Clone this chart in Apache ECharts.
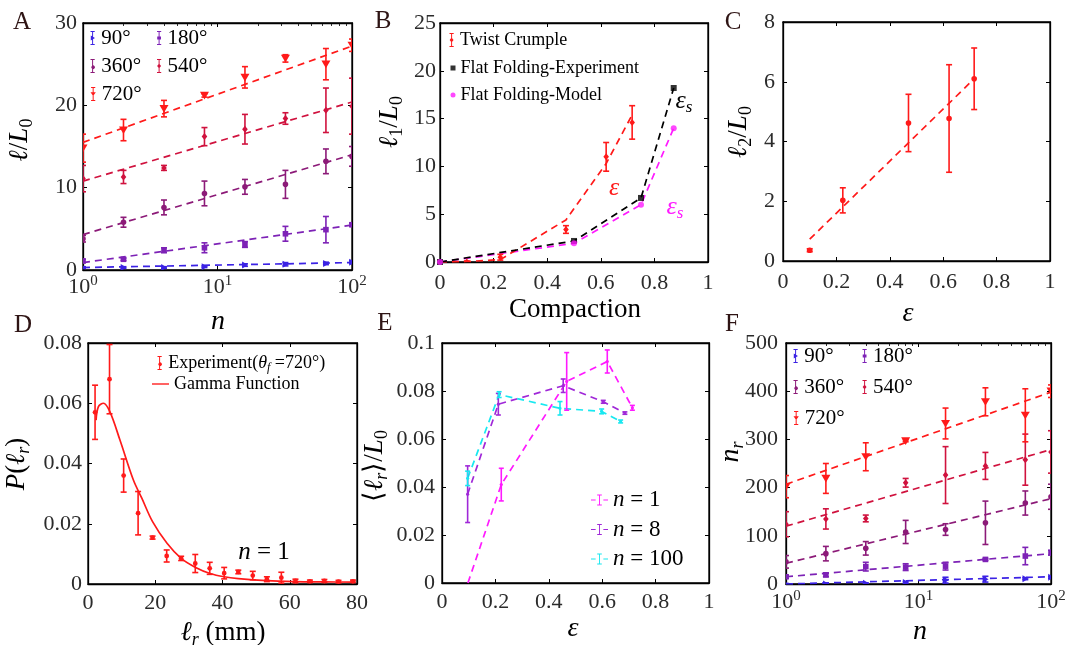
<!DOCTYPE html>
<html>
<head>
<meta charset="utf-8">
<script src="https://cdn.jsdelivr.net/npm/echarts@6/dist/echarts.min.js"></script>
<style>
  html, body { margin: 0; padding: 0; background: #fff; }
  #chart { width: 1070px; height: 645px; }
</style>
</head>
<body>
<div id="chart"></div>
<script>
// ---------------- data ----------------
const foldCounts = [1, 2, 4, 8, 16, 32, 64, 100];
const fitCounts = [1, 100];
const twistAngles = ['90°', '180°', '360°', '540°', '720°'];

// A: total crease length l/L0 versus folding count n, one row per twist angle
const lengthMean = [
  [0.3, 0.3, 0.3, 0.4, 0.6, 0.7, 0.8, 0.95],
  [1.1, 1.3, 2.4, 2.7, 3.1, 4.4, 4.9, 5.5],
  [3.8, 5.8, 7.6, 9.3, 10.1, 10.4, 13.2, 13.8],
  [11.1, 11.3, 12.4, 16.2, 17.1, 18.4, 19.4, 19.9],
  [14.8, 17.0, 19.6, 21.2, 23.4, 25.7, 25.0, 27.3]
];
const lengthErr = [
  [0.1, 0.1, 0.1, 0.1, 0.15, 0.2, 0.15, 0.15],
  [0.2, 0.15, 0.3, 0.6, 0.35, 0.9, 1.6, 0.2],
  [0.4, 0.6, 0.9, 1.5, 0.9, 1.7, 1.5, 1.2],
  [1.6, 0.8, 0.3, 1.1, 1.8, 0.7, 2.7, 3.4],
  [1.7, 1.3, 1.0, 0.2, 1.3, 0.45, 1.9, 0.75]
];
const lengthFit = [[0.3, 0.9], [0.9, 5.45], [4.3, 14.0], [10.8, 20.4], [15.5, 27.2]];

// B: largest crease length l1/L0 versus compaction
const twistCompaction = [0.1, 0.225, 0.47, 0.62, 0.717];
const twistL1 = [0, 0.5, 3.4, 11.0, 14.6];
const twistL1Err = [0.1, 0.3, 0.4, 1.5, 1.75];
const twistFitCompaction = [0, 0.1, 0.225, 0.47, 0.62, 0.717];
const twistFitL1 = [0, 0.05, 0.25, 4.4, 10.3, 15.4];
const flatCompaction = [0, 0.5, 0.75, 0.872];
const flatExperimentL1 = [0, 2.2, 6.7, 18.2];
const flatModelL1 = [0, 1.95, 6.0, 14.0];

// C: second largest crease length l2/L0 versus compaction eps
const strainC = [0.1, 0.224, 0.47, 0.622, 0.716];
const l2Mean = [0.36, 2.03, 4.62, 4.77, 6.1];
const l2Err = [0.05, 0.42, 0.96, 1.8, 1.03];
const l2FitStrain = [0.1, 0.716];
const l2Fit = [0.73, 6.1];

// D: distribution of ridge lengths (mm), theta_f = 720°, n = 1
const ridgeLength = [2.1, 6.4, 10.6, 14.9, 19.2, 23.4, 27.7, 31.9, 36.2, 40.5, 44.7, 49.0, 53.2, 57.5, 61.7, 66.0, 70.3, 74.5, 78.8];
const ridgeProb = [0.057, 0.068, 0.036, 0.0235, 0.0154, 0.0093, 0.0085, 0.0068, 0.0052, 0.0036, 0.0040, 0.0028, 0.0016, 0.0021, 0.0010, 0.0009, 0.0010, 0.0008, 0.0009];
const ridgeProbErr = [0.009, 0.0115, 0.0055, 0.0072, 0.0005, 0.002, 0.0007, 0.003, 0.002, 0.0019, 0.0006, 0.0014, 0.0008, 0.0018, 0.0006, 0.0004, 0.0005, 0.0004, 0.0004];
const gammaLength = [2.4, 3.1, 4.6, 6.5, 9.5, 13.5, 16, 19.2, 23.5, 27.7, 32, 36.3, 40.5, 44.7, 53.2, 61.7, 70, 79.5];
const gammaProb = [0.0544, 0.0589, 0.0600, 0.0572, 0.0478, 0.0345, 0.0285, 0.0207, 0.0135, 0.0085, 0.0055, 0.0035, 0.0024, 0.0018, 0.0011, 0.0008, 0.0007, 0.0006];

// E: mean ridge length <l_r>/L0 versus eps for three folding counts
const meanRidgeLabels = ['n = 1', 'n = 8', 'n = 100'];
const meanRidgeStrain = [
  [0.097, 0.222, 0.467, 0.619, 0.713],
  [0.096, 0.211, 0.454, 0.604, 0.685],
  [0.096, 0.214, 0.442, 0.598, 0.669]
];
const meanRidge = [
  [0.0, 0.041, 0.084, 0.0923, 0.073],
  [0.037, 0.0745, 0.0822, 0.0755, 0.0708],
  [0.0436, 0.0785, 0.0728, 0.0715, 0.0673]
];
const meanRidgeErr = [
  [0, 0.0068, 0.012, 0.0048, 0.001],
  [0.0118, 0.0045, 0.0028, 0.0006, 0.0005],
  [0.003, 0.0012, 0.0028, 0.001, 0.0006]
];

// F: number of ridges n_r versus folding count n
const ridgeCountMean = [
  [0, 0, 1.5, 3, 8, 10, 11, 14],
  [15, 19, 36, 35, 37, 51, 58, 65],
  [46, 63, 74, 108, 113, 127, 168, 181],
  [124, 135, 136, 210, 226, 245, 258, 274],
  [202, 219, 264, 297, 333, 378, 350, 400]
];
const ridgeCountErr = [
  [1, 1, 1, 2, 6, 6, 2, 2],
  [3, 4, 9, 7, 8, 2, 18, 5],
  [13, 15, 14, 24, 12, 45, 25, 26],
  [26, 21, 7, 9, 59, 28, 53, 44],
  [23, 31, 29, 2, 32, 29, 55, 13]
];
const ridgeCountFit = [[0, 15], [15, 63], [43, 177], [120, 279], [207, 398]];

// ---------------- styling ----------------
const SERIF = "'Liberation Serif', 'Times New Roman', serif";
const angleColors = ['#3b22e4', '#7d22b6', '#8c1a78', '#d0123e', '#ff1a1a'];
const angleMarkers = ['triRight', 'square', 'circle', 'diamond', 'triDown'];
const ridgeColors = ['#ff1aff', '#a028d8', '#18e8f0'];

const subRich = (size, color) => {
  const c = color || '#000';
  const small = Math.round(size * 0.66);
  const drop = [Math.round(size * 0.5), 0, 0, 0];
  return {
    i: { fontFamily: SERIF, fontStyle: 'italic', fontSize: size, lineHeight: size, fill: c, color: c },
    r: { fontFamily: SERIF, fontSize: size, lineHeight: size, fill: c, color: c },
    s: { fontFamily: SERIF, fontStyle: 'italic', fontSize: small, lineHeight: small, padding: drop, fill: c, color: c },
    sr: { fontFamily: SERIF, fontSize: small, lineHeight: small, padding: drop, fill: c, color: c }
  };
};

// ---------------- helpers ----------------
function marker(kind, cx, cy, s, color) {
  const h = s / 2;
  const style = { fill: color };
  if (kind === 'triDown') return { type: 'polygon', shape: { points: [[cx - h, cy - h * 0.8], [cx + h, cy - h * 0.8], [cx, cy + h * 0.9]] }, style };
  if (kind === 'triRight') return { type: 'polygon', shape: { points: [[cx - h * 0.8, cy - h], [cx + h * 0.9, cy], [cx - h * 0.8, cy + h]] }, style };
  if (kind === 'square') return { type: 'rect', shape: { x: cx - h * 0.8, y: cy - h * 0.8, width: h * 1.6, height: h * 1.6 }, style };
  if (kind === 'diamond') return { type: 'polygon', shape: { points: [[cx, cy - h], [cx + h * 0.8, cy], [cx, cy + h], [cx - h * 0.8, cy]] }, style };
  return { type: 'circle', shape: { cx, cy, r: h * 0.8 }, style };
}

// points with symmetric vertical error bars, positioned through the axes of the grid
function errorSeries(name, axisIdx, xs, ys, errs, color, kind, size, cap) {
  return {
    type: 'custom', name, xAxisIndex: axisIdx, yAxisIndex: axisIdx, clip: true,
    itemStyle: { color }, z: 3,
    encode: { x: 0, y: 1 },
    data: xs.map((x, k) => [x, ys[k], errs[k]]),
    renderItem(params, api) {
      const x = api.value(0), y = api.value(1), e = api.value(2);
      const c = api.coord([x, y]);
      const kids = [];
      if (e > 0) {
        const hi = api.coord([x, y + e])[1], lo = api.coord([x, y - e])[1];
        const ls = { stroke: color, lineWidth: 1.6 };
        kids.push({ type: 'line', shape: { x1: c[0], y1: hi, x2: c[0], y2: lo }, style: ls });
        kids.push({ type: 'line', shape: { x1: c[0] - cap, y1: hi, x2: c[0] + cap, y2: hi }, style: ls });
        kids.push({ type: 'line', shape: { x1: c[0] - cap, y1: lo, x2: c[0] + cap, y2: lo }, style: ls });
      }
      kids.push(marker(kind, c[0], c[1], size, color));
      return { type: 'group', children: kids };
    }
  };
}

function dashedLine(axisIdx, xs, ys, color, extra) {
  return Object.assign({
    type: 'line', xAxisIndex: axisIdx, yAxisIndex: axisIdx, symbol: 'none', silent: true,
    data: xs.map((x, k) => [x, ys[k]]),
    lineStyle: { color, width: 1.7, type: [7, 5] }, itemStyle: { color }, z: 2
  }, extra || {});
}

const grids = [];
const xAxes = [];
const yAxes = [];

const tickStyle = { show: true, inside: true, length: 4, lineStyle: { color: '#000', width: 1 } };
const lineStyleAxis = { show: true, onZero: false, lineStyle: { color: '#000', width: 1.3 } };
const labelBase = { fontFamily: SERIF, fontSize: 22, color: '#2b2b2b' };
const logLabel = {
  formatter: (v) => '{b|10}{p|' + Math.round(Math.log10(v)) + '}',
  rich: {
    b: { fontFamily: SERIF, fontSize: 22, color: '#2b2b2b', lineHeight: 22 },
    p: { fontFamily: SERIF, fontSize: 15, color: '#2b2b2b', lineHeight: 15, padding: [0, 0, 12, 0] }
  }
};

// Adds a framed grid with a labelled bottom/left axis pair and mirrored top/right ticks
function addPanel(box, xo, yo) {
  const gi = grids.length;
  grids.push(Object.assign({ show: true, borderColor: '#000', borderWidth: 1.3, containLabel: false, outerBoundsMode: 'none' }, box));
  const mk = (o, pos, showLabel, margin) => {
    const a = Object.assign({}, o, {
      gridIndex: gi, position: pos,
      axisLine: lineStyleAxis, axisTick: tickStyle, splitLine: { show: false },
      axisLabel: Object.assign({ show: showLabel, margin }, o.type === 'log' ? logLabel : labelBase)
    });
    if (o.type === 'log' && pos === 'top') {
      a.minorTick = { show: true, splitNumber: 9, length: 3, lineStyle: { color: '#000', width: 0.8 } };
    }
    delete a.margin;
    return a;
  };
  xAxes.push(mk(xo, 'bottom', true, xo.margin));
  yAxes.push(mk(yo, 'left', true, yo.margin));
  const idx = xAxes.length - 1;
  xAxes.push(mk(xo, 'top', false, 0));
  yAxes.push(mk(yo, 'right', false, 0));
  return idx;
}

const logX = { type: 'log', logBase: 10, min: 1, max: 100, margin: 6 };
const axA = addPanel({ left: 83, top: 23, width: 269, height: 247 }, logX, { type: 'value', min: 0, max: 30, interval: 10, margin: 6 });
const axB = addPanel({ left: 440, top: 23, width: 268, height: 239 }, { type: 'value', min: 0, max: 1, interval: 0.2, margin: 10 }, { type: 'value', min: 0, max: 25, interval: 5, margin: 4 });
const axC = addPanel({ left: 783, top: 22, width: 267, height: 239 }, { type: 'value', min: 0, max: 1, interval: 0.2, margin: 10 }, { type: 'value', min: 0, max: 8, interval: 2, margin: 8 });
const axD = addPanel({ left: 88, top: 343, width: 269, height: 241 }, { type: 'value', min: 0, max: 80, interval: 20, margin: 8 }, { type: 'value', min: 0, max: 0.08, interval: 0.02, margin: 6 });
const axE = addPanel({ left: 442, top: 343, width: 267, height: 240 }, { type: 'value', min: 0, max: 1, interval: 0.2, margin: 8 }, { type: 'value', min: 0, max: 0.1, interval: 0.02, margin: 7 });
const axF = addPanel({ left: 786, top: 343, width: 265, height: 241 }, { type: 'log', logBase: 10, min: 1, max: 100, margin: 7 }, { type: 'value', min: 0, max: 500, interval: 100, margin: 8 });

// ---------------- series ----------------
const series = [];
twistAngles.forEach((ang, k) => {
  series.push(dashedLine(axA, fitCounts, lengthFit[k], angleColors[k]));
  series.push(errorSeries(ang, axA, foldCounts, lengthMean[k], lengthErr[k], angleColors[k], angleMarkers[k], k === 4 ? 9 : 7, 3));
  series.push(dashedLine(axF, fitCounts, ridgeCountFit[k], angleColors[k]));
  series.push(errorSeries(ang + ' ', axF, foldCounts, ridgeCountMean[k], ridgeCountErr[k], angleColors[k], angleMarkers[k], k === 4 ? 9 : 7, 3));
});

series.push(dashedLine(axB, twistFitCompaction, twistFitL1, '#ff1a1a'));
series.push(errorSeries('Twist Crumple', axB, twistCompaction, twistL1, twistL1Err, '#ff1a1a', 'diamond', 7, 3));
series.push(dashedLine(axB, flatCompaction, flatExperimentL1, '#000000'));
series.push(dashedLine(axB, flatCompaction, flatModelL1, '#ff1aff', { z: 1 }));
series.push({ type: 'scatter', name: 'Flat Folding-Experiment', xAxisIndex: axB, yAxisIndex: axB, symbol: 'rect', symbolSize: 6, itemStyle: { color: '#000' }, z: 4, data: flatCompaction.map((x, k) => [x, flatExperimentL1[k]]) });
series.push({ type: 'scatter', name: 'Flat Folding-Model', xAxisIndex: axB, yAxisIndex: axB, symbol: 'circle', symbolSize: 6, itemStyle: { color: '#ff1aff' }, z: 4, data: flatCompaction.map((x, k) => [x, flatModelL1[k]]) });

series.push(dashedLine(axC, l2FitStrain, l2Fit, '#ff1a1a'));
series.push(errorSeries('l2', axC, strainC, l2Mean, l2Err, '#ff1a1a', 'circle', 7, 3));

series.push({ type: 'line', name: 'Gamma Function', xAxisIndex: axD, yAxisIndex: axD, symbol: 'none', smooth: 0.35, lineStyle: { color: '#ff1a1a', width: 1.7 }, itemStyle: { color: '#ff1a1a' }, z: 2, data: gammaLength.map((x, k) => [x, gammaProb[k]]) });
series.push(errorSeries('Experiment', axD, ridgeLength, ridgeProb, ridgeProbErr, '#ff1a1a', 'circle', 6, 3));

meanRidgeLabels.forEach((lab, k) => {
  series.push(dashedLine(axE, meanRidgeStrain[k], meanRidge[k], ridgeColors[k]));
  // the n = 1 curve starts from zero without a measured point there
  const from = meanRidgeErr[k][0] > 0 ? 0 : 1;
  series.push(errorSeries(lab, axE, meanRidgeStrain[k].slice(from), meanRidge[k].slice(from), meanRidgeErr[k].slice(from), ridgeColors[k], 'circle', 4, 2.5));
});

// ---------------- legends ----------------
const ICON = {
  bar: 'M2 0H8V1.4H2Z M4.3 0H5.7V20H4.3Z M2 18.6H8V20H2Z ',
  triDown: 'M1.2 7.6H8.8L5 13Z',
  triRight: 'M2.4 6.4L8.4 10L2.4 13.6Z',
  square: 'M2.3 7.7H7.7V12.3H2.3Z',
  circle: 'M7.6 10A2.6 2.6 0 1 1 7.59 9.99Z',
  diamond: 'M5 6.6L7.8 10L5 13.4L2.2 10Z',
  dashBar: 'M0 6.4H6V7.6H0Z M8 0H14V1.2H8Z M10.4 0H11.6V14H10.4Z M8 12.8H14V14H8Z M16 6.4H22V7.6H16Z'
};
const legends = [];
function legendItem(name, icon, left, cy, iw, ih, fontSize, formatter, richSize) {
  const lg = {
    data: [{ name, icon }], left, top: cy - 12, orient: 'vertical', padding: 0,
    itemWidth: iw, itemHeight: ih, itemGap: 0, selectedMode: false,
    textStyle: { fontFamily: SERIF, fontSize, color: '#000', lineHeight: 24, rich: subRich(richSize || fontSize) }
  };
  if (formatter) lg.formatter = formatter;
  legends.push(lg);
}
const angleRows = [[0, 0], [0, 1], [1, 0], [1, 1], [2, 0]];
twistAngles.forEach((ang, k) => {
  const [row, col] = angleRows[k];
  const icon = 'path://' + ICON.bar + ICON[angleMarkers[k]];
  legendItem(ang, icon, col ? 157 : 90.5, 38 + row * 28, 7, 14, 21);
  legendItem(ang + ' ', icon, col ? 862.5 : 793.5, 356 + row * 31, 7, 14, 21, () => ang);
});
legendItem('Twist Crumple', 'path://' + ICON.bar + ICON.diamond, 449.5, 40, 7, 14, 18);
legendItem('Flat Folding-Experiment', 'rect', 450.5, 68, 5, 5, 18);
legendItem('Flat Folding-Model', 'circle', 450.5, 95, 5, 5, 18);
legendItem('Experiment', 'path://' + ICON.bar + ICON.circle, 157.5, 363, 7, 14, 18, () => 'Experiment({i|θ}{s|f} =720°)', 18);
legendItem('Gamma Function', 'path://M0 0H20V1.6H0Z', 152, 384, 17, 2, 18);
meanRidgeLabels.forEach((lab, k) => {
  legendItem(lab, 'path://' + ICON.dashBar, 591, 500 + k * 29.5, 17, 11, 23, () => '{i|n} = ' + lab.split('= ')[1], 23);
});

// ---------------- text: panel letters, axis titles, annotations ----------------
function txt(x, y, text, size, opts) {
  const o = opts || {};
  const el = {
    type: 'text', x, y, silent: true, z: 10,
    style: {
      text, fontFamily: SERIF, fontSize: size, fill: o.color || '#000',
      align: 'center', verticalAlign: 'middle', rich: subRich(size, o.color)
    }
  };
  if (o.rotation) el.rotation = o.rotation;
  return el;
}
const UP = { rotation: Math.PI / 2 };
const LETTER = { color: '#2e1414' };
const graphic = [
  txt(22, 22, 'A', 25, LETTER), txt(383, 21, 'B', 25, LETTER), txt(733, 22, 'C', 25, LETTER),
  txt(23, 325, 'D', 25, LETTER), txt(385, 323, 'E', 25, LETTER), txt(732, 324, 'F', 25, LETTER),

  txt(20, 140, '{i|ℓ}{r|/}{i|L}{sr|0}', 27, UP),
  txt(218, 322, '{i|n}', 28),
  txt(390, 122, '{i|ℓ}{sr|1}{r|/}{i|L}{sr|0}', 27, UP),
  txt(575, 310, 'Compaction', 27),
  txt(739, 132, '{i|ℓ}{sr|2}{r|/}{i|L}{sr|0}', 27, UP),
  txt(908, 314, '{i|ε}', 28),
  txt(17, 464, '{i|P}{r|(}{i|ℓ}{s|r}{r|)}', 27, UP),
  txt(223, 633, '{i|ℓ}{s|r}{r| (mm)}', 27),
  txt(375, 466, '{r|⟨}{i|ℓ}{s|r}{r|⟩/}{i|L}{sr|0}', 27, UP),
  txt(573, 629, '{i|ε}', 28),
  txt(731, 452, '{i|n}{s|r}', 28, UP),
  txt(920, 632, '{i|n}', 28),

  txt(684, 101, '{i|ε}{s|s}', 26),
  txt(614, 188, '{i|ε}', 26, { color: '#ff1a1a' }),
  txt(675, 207, '{i|ε}{s|s}', 26, { color: '#ff1aff' }),
  txt(264, 552, '{i|n} = 1', 25)
];

const chart = echarts.init(document.getElementById('chart'), null, { renderer: 'canvas' });
chart.setOption({
  animation: false,
  backgroundColor: '#fff',
  grid: grids,
  xAxis: xAxes,
  yAxis: yAxes,
  legend: legends,
  series,
  graphic
});
</script>
</body>
</html>
